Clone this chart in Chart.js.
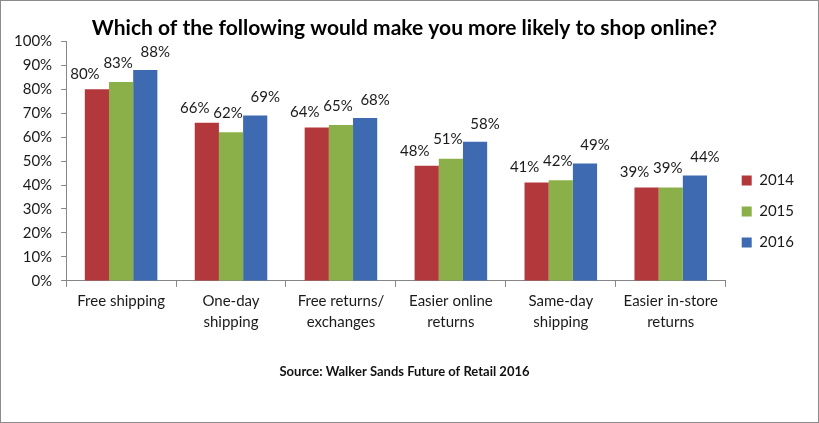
<!DOCTYPE html>
<html>
<head>
<meta charset="utf-8">
<script src="https://cdn.jsdelivr.net/npm/chart.js@4.4.1/dist/chart.umd.min.js"></script>
<style>
  body { margin: 0; background: #fff; }
  #wrap { width: 819px; height: 423px; box-sizing: border-box; border: 1px solid #8c8c8c; }
  canvas { display: block; }
</style>
</head>
<body>
<div id="wrap"><canvas id="myChart" width="817" height="421"></canvas></div>
<script>
// categories and values
var categories = [
    ['Free shipping'],
    ['One-day', 'shipping'],
    ['Free returns/', 'exchanges'],
    ['Easier online', 'returns'],
    ['Same-day', 'shipping'],
    ['Easier in-store', 'returns']
];
var years = ['2014', '2015', '2016'];
var values2014 = [80, 66, 64, 48, 41, 39];
var values2015 = [83, 62, 65, 51, 42, 39];
var values2016 = [88, 69, 68, 58, 49, 44];
var yTicks = [0, 10, 20, 30, 40, 50, 60, 70, 80, 90, 100];

var colors = ['#B3383B', '#8BB04A', '#3D6AB0'];
// label nudge per series (Excel moved them to avoid overlapping)
var labelShift = [{ dx: -12, dy: 15 }, { dx: -3, dy: 19 }, { dx: 10, dy: 18 }];

var font = 'Lato, "Open Sans", sans-serif';

var valueLabels = {
    id: 'valueLabels',
    afterDatasetsDraw: function(chart) {
        var ctx = chart.ctx;
        ctx.save();
        ctx.font = '15px ' + font;
        ctx.fillStyle = '#1a1a1a';
        ctx.textAlign = 'center';
        ctx.textBaseline = 'middle';
        chart.data.datasets.forEach(function(ds, i) {
            var meta = chart.getDatasetMeta(i);
            meta.data.forEach(function(bar, j) {
                ctx.fillText(ds.data[j] + '%', bar.x + labelShift[i].dx, bar.y - labelShift[i].dy);
            });
        });
        ctx.restore();
    }
};

var ctx = document.getElementById('myChart').getContext('2d');
var chart = new Chart(ctx, {
    type: 'bar',
    data: {
        labels: categories,
        datasets: [
            { label: years[0], data: values2014, backgroundColor: colors[0] },
            { label: years[1], data: values2015, backgroundColor: colors[1] },
            { label: years[2], data: values2016, backgroundColor: colors[2] }
        ]
    },
    options: {
        responsive: false,
        animation: false,
        categoryPercentage: 0.66,
        barPercentage: 1,
        layout: { padding: { left: 4, right: 14, bottom: 0 } },
        scales: {
            x: {
                grid: { offset: true, drawOnChartArea: false, tickLength: 6, color: '#868686' },
                border: { color: '#868686' },
                ticks: { font: { family: font, size: 15, lineHeight: 1.45 }, color: '#1a1a1a', padding: 3, maxRotation: 0 }
            },
            y: {
                min: 0,
                max: 100,
                afterBuildTicks: function(axis) {
                    axis.ticks = yTicks.map(function(v) { return { value: v }; });
                },
                grid: { drawOnChartArea: false, tickLength: 5, color: '#868686' },
                border: { color: '#868686' },
                ticks: {
                    font: { family: font, size: 15 },
                    color: '#1a1a1a',
                    padding: 9,
                    callback: function(v) { return v + '%'; }
                }
            }
        },
        plugins: {
            title: {
                display: true,
                text: 'Which of the following would make you more likely to shop online?',
                font: { family: font, size: 21, weight: 'bold' },
                color: '#000',
                padding: { top: 15, bottom: 0 }
            },
            subtitle: {
                display: true,
                position: 'bottom',
                text: 'Source: Walker Sands Future of Retail 2016',
                font: { family: font, size: 13, weight: 'bold' },
                color: '#111',
                padding: { top: 28, bottom: 42 }
            },
            legend: {
                position: 'right',
                align: 'center',
                labels: {
                    boxWidth: 10,
                    boxHeight: 10,
                    padding: 16,
                    font: { family: font, size: 15 },
                    color: '#1a1a1a'
                }
            },
            tooltip: { enabled: false }
        }
    },
    plugins: [valueLabels]
});
</script>
</body>
</html>
